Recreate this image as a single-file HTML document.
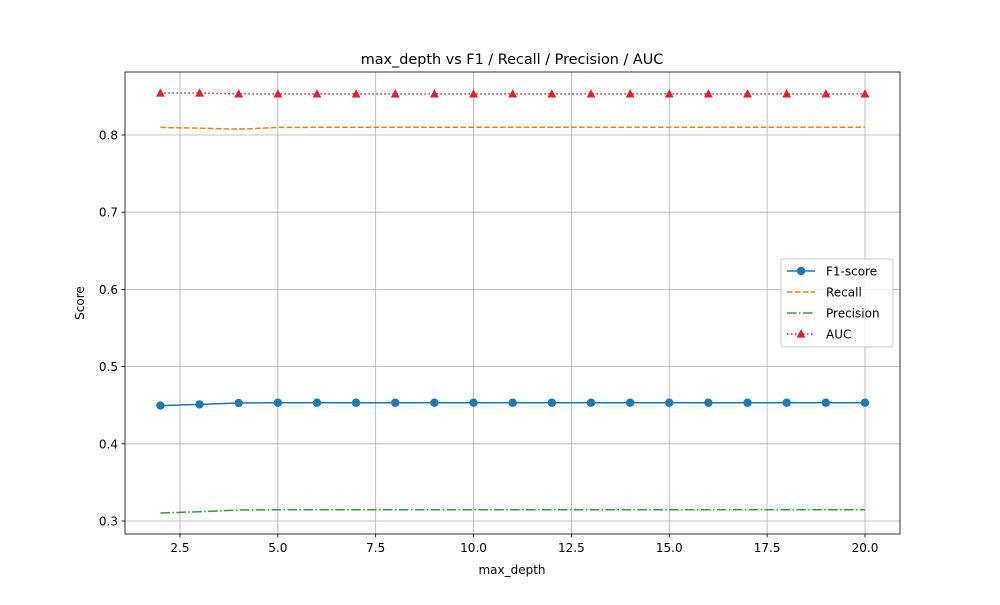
<!DOCTYPE html>
<html><head><meta charset="utf-8"><style>
body{margin:0;background:#fff;font-family:"Liberation Sans","DejaVu Sans",sans-serif;}
svg text{font-family:"DejaVu Sans","Liberation Sans",sans-serif;}
</style></head><body>
<svg id="chart" width="1000" height="600" xmlns="http://www.w3.org/2000/svg">
<rect width="1000" height="600" fill="#fff"/>
<g id="grid"></g>
<g id="series"></g>
<rect x="125" y="72" width="775" height="462" fill="none" stroke="#000" stroke-width="0.8"/>
<g id="axes"></g>
<text x="512" y="64" text-anchor="middle" font-size="14.4">max_depth vs F1 / Recall / Precision / AUC</text>
<text x="512" y="574" text-anchor="middle" font-size="12">max_depth</text>
<text x="84" y="303" text-anchor="middle" font-size="12" transform="rotate(-90 84 303)">Score</text>
<g id="legend">
<rect x="781" y="259" width="112" height="88" fill="#fff" fill-opacity="0.8" stroke="#ccc" rx="3"/>
</g>
</svg>
<script>
const depths=[2,3,4,5,6,7,8,9,10,11,12,13,14,15,16,17,18,19,20];
const f1=[0.4495,0.451,0.4528,0.4532,0.4532,0.4532,0.4532,0.4532,0.4532,0.4532,0.4532,0.4532,0.4532,0.4532,0.4532,0.4532,0.4532,0.4532,0.4532];
const recall=[0.8098,0.8088,0.8075,0.8098,0.8100,0.8100,0.8100,0.8100,0.8100,0.8100,0.8100,0.8100,0.8100,0.8100,0.8100,0.8100,0.8100,0.8100,0.8100];
const precision=[0.3104,0.312,0.3142,0.3146,0.3146,0.3146,0.3146,0.3146,0.3146,0.3146,0.3146,0.3146,0.3146,0.3146,0.3146,0.3146,0.3146,0.3146,0.3146];
const auc=[0.8544,0.8544,0.8532,0.8532,0.8532,0.8532,0.8532,0.8532,0.8532,0.8532,0.8532,0.8532,0.8532,0.8532,0.8532,0.8532,0.8532,0.8532,0.8532];
const xTicks=[2.5,5.0,7.5,10.0,12.5,15.0,17.5,20.0];
const yTicks=[0.3,0.4,0.5,0.6,0.7,0.8];
const NS="http://www.w3.org/2000/svg";
function X(v){return 160.4+(v-2)*39.143;}
function Y(v){return 521-(v-0.3)*772;}
function mk(t,a,p){const e=document.createElementNS(NS,t);for(const k in a)e.setAttribute(k,a[k]);p.appendChild(e);return e;}
const grid=document.getElementById('grid'),axes=document.getElementById('axes'),ser=document.getElementById('series'),leg=document.getElementById('legend');
xTicks.forEach(t=>{const x=X(t);
const g=mk('line',{x1:x,x2:x,y1:72,y2:534,stroke:'#b0b0b0','stroke-width':0.8},grid);

mk('line',{x1:x,x2:x,y1:534,y2:537.5,stroke:'#000','stroke-width':0.8},axes);
const tx=mk('text',{x:x,y:552,'text-anchor':'middle','font-size':12},axes);tx.textContent=t.toFixed(1);
});
yTicks.forEach(t=>{const y=Y(t);
const g=mk('line',{x1:125,x2:900,y1:y,y2:y,stroke:'#b0b0b0','stroke-width':0.8},grid);

mk('line',{x1:121.5,x2:125,y1:y,y2:y,stroke:'#000','stroke-width':0.8},axes);
const tx=mk('text',{x:118,y:y+4.5,'text-anchor':'end','font-size':12},axes);tx.textContent=t.toFixed(1);
});
const defs=[
{name:'F1-score',data:f1,color:'#1f77b4',dash:'',marker:'o'},
{name:'Recall',data:recall,color:'#ff7f0e',dash:'5.5,2.4',marker:''},
{name:'Precision',data:precision,color:'#2ca02c',dash:'9.6,2.4,1.5,2.4',marker:''},
{name:'AUC',data:auc,color:'#d62728',dash:'1.5,2.5',marker:'^'}];
function marker(m,x,y,c,p){
if(m==='o'){const e=mk('circle',{cx:x,cy:y,r:4.2,fill:c},p);}
if(m==='^'){const e=mk('polygon',{points:`${x},${y-4.8} ${x-4.4},${y+3.6} ${x+4.4},${y+3.6}`,fill:c},p);}}
defs.forEach((d,i)=>{
const pts=d.data.map((v,j)=>X(depths[j])+','+Y(v)).join(' ');
const l=mk('polyline',{points:pts,fill:'none',stroke:d.color,'stroke-width':1.5,'stroke-dasharray':d.dash},ser);

d.data.forEach((v,j)=>marker(d.marker,X(depths[j]),Y(v),d.color,ser));
const ly=271+i*21;
const ll=mk('line',{x1:787,x2:815,y1:ly,y2:ly,stroke:d.color,'stroke-width':1.5,'stroke-dasharray':d.dash},leg);

marker(d.marker,801,ly,d.color,leg);
const t=mk('text',{x:826,y:ly+4.5,'font-size':12},leg);t.textContent=d.name;
});
</script>
</body></html>
